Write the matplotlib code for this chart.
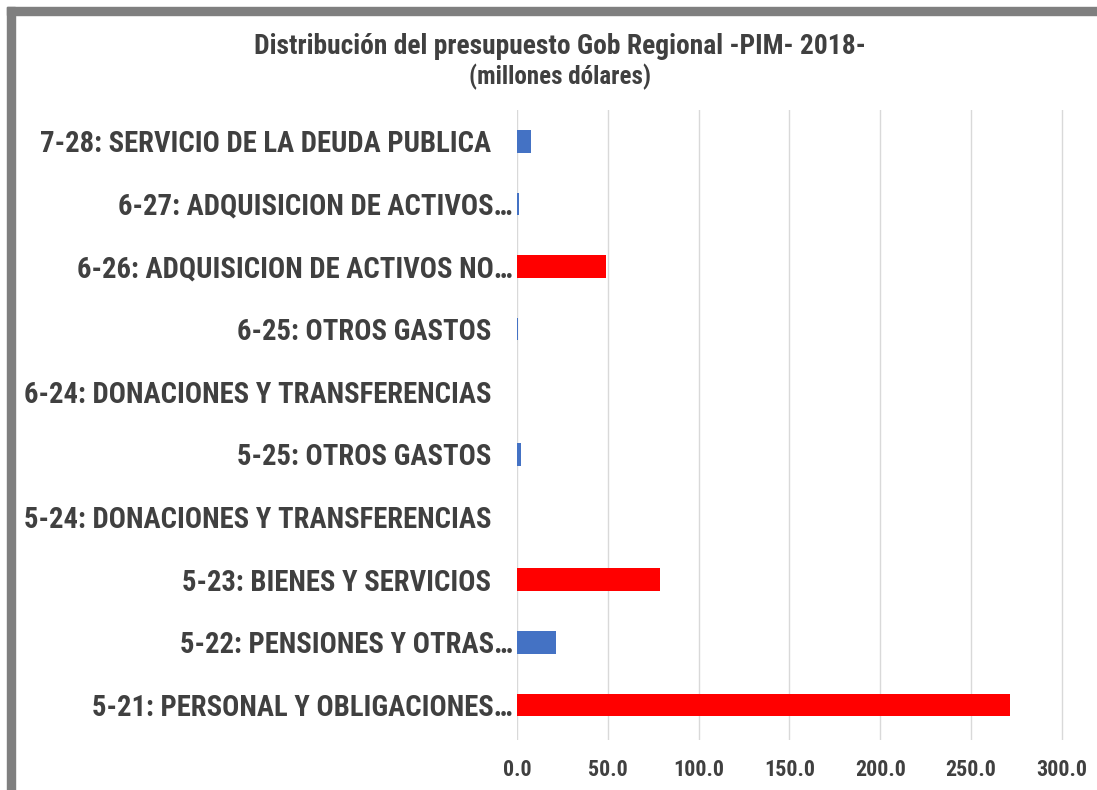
import matplotlib
matplotlib.use("Agg")
import matplotlib.pyplot as plt
from matplotlib import font_manager
from matplotlib.patches import Rectangle
from matplotlib.transforms import ScaledTranslation

categories = [
    "5-21: PERSONAL Y OBLIGACIONES…",
    "5-22: PENSIONES Y OTRAS…",
    "5-23: BIENES Y SERVICIOS",
    "5-24: DONACIONES Y TRANSFERENCIAS",
    "5-25: OTROS GASTOS",
    "6-24: DONACIONES Y TRANSFERENCIAS",
    "6-25: OTROS GASTOS",
    "6-26: ADQUISICION DE ACTIVOS NO…",
    "6-27: ADQUISICION DE ACTIVOS…",
    "7-28: SERVICIO DE LA DEUDA PUBLICA",
]
values = [271.5, 21.5, 78.5, 0.0, 2.0, 0.0, 0.6, 49.0, 1.2, 7.5]
highlight = [True, False, True, False, False, False, False, True, False, False]
ticks = [0, 50, 100, 150, 200, 250, 300]

# pick a narrow font, like the Arial Narrow of the original
installed = {f.name for f in font_manager.fontManager.ttflist}
family = "DejaVu Sans"
for cand in ["Liberation Sans Narrow", "Arial Narrow", "Roboto Condensed",
             "Archivo Narrow", "PT Sans Narrow", "Open Sans Condensed", "Roboto"]:
    if cand in installed:
        family = cand
        break
plt.rcParams["font.family"] = [family, "DejaVu Sans"]
plt.rcParams["font.weight"] = "bold"
text_color = "#404040"

W, H = 1097, 790
fig = plt.figure(figsize=(W / 100, H / 100), dpi=100)
ax = fig.add_axes([517 / W, 1 - 740 / H, 1 - 517 / W, 630 / H])

colors = ["#FF0000" if h else "#4472C4" for h in highlight]
ax.barh(range(len(categories)), values, height=0.36, color=colors, zorder=3)

ax.set_xlim(0, (W - 517) / 1.816)
ax.set_ylim(-0.56, 9.5)
ax.set_xticks(ticks)
ax.set_xticklabels([f"{t:.1f}" for t in ticks], fontsize=17, color=text_color)
ax.set_yticks(range(len(categories)))
ax.set_yticklabels(categories, fontsize=21, color=text_color)
ax.tick_params(axis="both", length=0)
ax.tick_params(axis="y", pad=26 * 0.72)
ax.grid(axis="x", color="#D9D9D9", linewidth=1, zorder=0)
for s in ax.spines.values():
    s.set_visible(False)

title = fig.text(560 / W, 1 - 46 / H, "Distribución del presupuesto Gob Regional -PIM- 2018-",
                 ha="center", va="center", fontsize=17, color=text_color)
sub = fig.text(560 / W, 1 - 77 / H, "(millones dólares)",
               ha="center", va="center", fontsize=13, color=text_color)

# scale font sizes so text widths match the original
fig.canvas.draw()
r = fig.canvas.get_renderer()
ylabs = ax.get_yticklabels()
w = ylabs[5].get_window_extent(r).width
for t in ylabs:
    t.set_fontsize(21 * 466 / w)
    # truncated labels: the ellipsis runs closer to the axis
    if t.get_text().endswith("…"):
        t.set_transform(t.get_transform() + ScaledTranslation(22 / 100, 0, fig.dpi_scale_trans))
w = title.get_window_extent(r).width
title.set_fontsize(17 * 613 / w)
w = sub.get_window_extent(r).width
sub.set_fontsize(13 * 181 / w)
xlabs = ax.get_xticklabels()
w = xlabs[-1].get_window_extent(r).width
for t in xlabs:
    t.set_fontsize(17 * 51 / w)
fig.canvas.draw()
hx = xlabs[0].get_window_extent(r).height
ax.tick_params(axis="x", pad=(770 - 740 - hx / 2) * 72 / 100)

# gray frame at top and left edges
fig.patches.append(Rectangle((7 / W, 1 - 15 / H), 1, 8 / H,
                             transform=fig.transFigure, color="#7F7F7F"))
fig.patches.append(Rectangle((7 / W, 0), 8 / W, 1 - 7 / H,
                             transform=fig.transFigure, color="#7F7F7F"))

fig.savefig("out.png", dpi=100)
